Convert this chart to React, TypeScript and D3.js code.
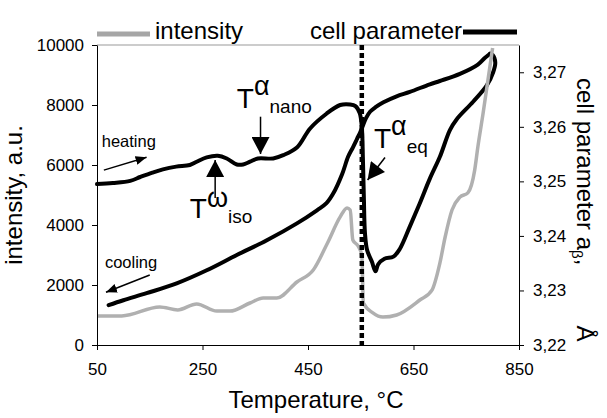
import React, { useRef, useEffect } from 'react';
import * as d3 from 'd3';

// axis ticks
const tempTicks = [50, 250, 450, 650, 850];
const intensityTicks = [0, 2000, 4000, 6000, 8000, 10000];
const cellTicks = [3.22, 3.23, 3.24, 3.25, 3.26, 3.27];

// grey curve: intensity vs temperature
const intensityTemp = [50, 97, 169, 203, 239, 277, 302, 340, 365, 391, 429, 460, 487, 511, 524, 530, 535, 545, 552, 555, 573, 592, 618, 662, 685, 700, 710, 723, 738, 753, 766, 772, 782, 800];
const intensityValue = [970, 970, 1270, 1170, 1370, 1130, 1130, 1400, 1570, 1570, 2100, 2500, 3400, 4270, 4570, 4500, 3500, 3300, 3000, 1400, 1070, 930, 1000, 1500, 1830, 2730, 3600, 4500, 4930, 5070, 5830, 6600, 7730, 9900];

// black curve: cell parameter, heating branch
const heatingTemp = [50, 80, 113, 132, 155, 175, 200, 226, 239, 258, 279, 296, 315, 327, 340, 355, 384, 403, 429, 454, 485, 511, 530, 540, 548, 552, 554, 556, 558, 562, 571, 578, 583, 595, 612, 624, 643, 662, 681, 700, 719, 732, 763, 789, 801, 805, 800, 795];
const heatingCell = [3.2495, 3.2497, 3.2501, 3.2508, 3.2516, 3.2522, 3.2527, 3.2530, 3.2536, 3.2544, 3.2547, 3.2542, 3.2531, 3.2531, 3.2536, 3.2542, 3.2542, 3.2548, 3.2562, 3.2597, 3.2624, 3.2640, 3.2641, 3.2638, 3.2625, 3.2600, 3.2545, 3.2466, 3.2405, 3.2374, 3.2353, 3.2335, 3.2348, 3.2358, 3.2362, 3.2376, 3.2417, 3.2460, 3.2505, 3.2545, 3.2594, 3.2614, 3.2646, 3.2676, 3.2700, 3.2718, 3.2732, 3.2734];

// cooling branch
const coolingTemp = [795, 785, 772, 738, 700, 681, 643, 618, 593, 578, 568, 560, 554, 549, 543, 535, 526, 515, 498, 485, 467, 429, 372, 315, 258, 201, 144, 100, 72];
const coolingCell = [3.2734, 3.2726, 3.2714, 3.2697, 3.2684, 3.2678, 3.2664, 3.2656, 3.2645, 3.2636, 3.2628, 3.2616, 3.2602, 3.2590, 3.2578, 3.2562, 3.2545, 3.2514, 3.2478, 3.2460, 3.2447, 3.2423, 3.2392, 3.2365, 3.2337, 3.2313, 3.2295, 3.2282, 3.2273];

const eqTemp = 552;

const FONT = 'Liberation Sans, Arial, Helvetica, sans-serif';

const margin = { top: 45, right: 88, bottom: 73, left: 97 };
const W = 607, H = 418;
const width = W - margin.left - margin.right;
const height = H - margin.top - margin.bottom;

const x = d3.scaleLinear().domain([50, 850]).range([0, width]);
const y = d3.scaleLinear().domain([0, 10000]).range([height, 0]);
const y2 = d3.scaleLinear().domain([3.22, 3.275]).range([height, 0]);

export default function App() {
    const leftRef = useRef<SVGGElement>(null);
    const rightRef = useRef<SVGGElement>(null);
    const bottomRef = useRef<SVGGElement>(null);

    useEffect(() => {
        const style = (g: any) => {
            g.selectAll('text').style('font-family', FONT).style('font-size', '17px').attr('fill', '#000');
            g.selectAll('line').attr('stroke', '#000');
            g.select('.domain').attr('stroke', '#000');
        };
        d3.select(leftRef.current!)
            .call(d3.axisLeft(y).tickValues(intensityTicks).tickSize(5).tickSizeOuter(0).tickPadding(8).tickFormat(d3.format('d')) as any)
            .call(style);
        d3.select(rightRef.current!)
            .call(d3.axisRight(y2).tickValues(cellTicks).tickSize(5).tickSizeOuter(0).tickPadding(9).tickFormat(d => d3.format('.2f')(d as number).replace('.', ',')) as any)
            .call(style);
        d3.select(bottomRef.current!)
            .call(d3.axisBottom(x).tickValues(tempTicks).tickSize(5).tickSizeOuter(0).tickPadding(13).tickFormat(d3.format('d')) as any)
            .call(style);
    }, []);

    const intensityLine = d3.line<number>()
        .x((d, i) => x(intensityTemp[i]))
        .y(d => y(d))
        .curve(d3.curveMonotoneX);

    const cellLine = (temps: number[]) => d3.line<number>()
        .x((d, i) => x(temps[i]))
        .y(d => y2(d))
        .curve(d3.curveCatmullRom.alpha(0.5));

    const arrow = (t1: number, i1: number, t2: number, i2: number, marker: string, key: string) => (
        <line key={key} x1={x(t1)} y1={y(i1)} x2={x(t2)} y2={y(i2)}
            stroke="#000" strokeWidth={1.5} markerEnd={`url(#${marker})`} />
    );

    const tLabel = (t: number, i: number, sup: string, sub: string, supDy: number, key: string) => (
        <text key={key} x={x(t)} y={y(i)} fontFamily={FONT} fontSize={28} fill="#000">
            T
            <tspan fontSize={27} dy={-supDy}>{sup}</tspan>
            <tspan fontSize={19} dy={supDy + 5}>{sub}</tspan>
        </text>
    );

    return (
        <svg width={W} height={H} style={{ position: 'absolute', left: 0, top: 0, background: '#fff' }}>
            <defs>
                <marker id="big" markerUnits="userSpaceOnUse" markerWidth={18} markerHeight={18}
                    viewBox="0 0 17 18" refX={17} refY={9} orient="auto">
                    <path d="M0,0 L17,9 L0,18 Z" fill="#000" />
                </marker>
                <marker id="small" markerUnits="userSpaceOnUse" markerWidth={11} markerHeight={9}
                    viewBox="0 0 11 9" refX={11} refY={4.5} orient="auto">
                    <path d="M0,0 L11,4.5 L0,9 Z" fill="#000" />
                </marker>
            </defs>

            {/* legend */}
            <line x1={margin.left} x2={margin.left + 53} y1={34} y2={34} stroke="#a6a6a6" strokeWidth={5} />
            <text x={margin.left + 58} y={39} fontFamily={FONT} fontSize={24} fill="#000">intensity</text>
            <text x={462} y={39} fontFamily={FONT} fontSize={24} fill="#000" textAnchor="end">cell parameter</text>
            <line x1={463} x2={517} y1={32} y2={32} stroke="#000" strokeWidth={5} />

            <g transform={`translate(${margin.left},${margin.top})`}>
                <line x1={0} x2={width} y1={0} y2={0} stroke="#999" strokeWidth={1} />

                <path d={cellLine(heatingTemp)(heatingCell) || ''} fill="none" stroke="#000" strokeWidth={4}
                    strokeLinejoin="round" strokeLinecap="round" />
                <path d={cellLine(coolingTemp)(coolingCell) || ''} fill="none" stroke="#000" strokeWidth={4}
                    strokeLinejoin="round" strokeLinecap="round" />
                <path d={intensityLine(intensityValue) || ''} fill="none" stroke="#b0b0b0" strokeWidth={3.5}
                    strokeLinejoin="round" />

                <line x1={x(eqTemp)} x2={x(eqTemp)} y1={0} y2={height} stroke="#000" strokeWidth={4.5}
                    strokeDasharray="5,3" />

                {/* annotations */}
                <text x={x(59)} y={y(6600)} fontFamily={FONT} fontSize={16.5} fill="#000">heating</text>
                {arrow(63, 5830, 144, 6257, 'small', 'ah')}
                <text x={x(65)} y={y(2577)} fontFamily={FONT} fontSize={16.5} fill="#000">cooling</text>
                {arrow(150, 2333, 67, 1757, 'small', 'ac')}

                {tLabel(315, 7890, 'α', 'nano', 13, 'tn')}
                {arrow(360, 7610, 360, 6367, 'big', 'an')}
                {tLabel(226, 4233, 'ω', 'iso', 11, 'ti')}
                {arrow(274, 4900, 274, 6167, 'big', 'ai')}
                {tLabel(575, 6567, 'α', 'eq', 13, 'te')}
                {arrow(596, 6250, 563, 5500, 'big', 'ae')}

                <g ref={leftRef} />
                <g ref={rightRef} transform={`translate(${width},0)`} />
                <g ref={bottomRef} transform={`translate(0,${height})`} />
            </g>

            {/* axis titles */}
            <text transform={`translate(22,${margin.top + height / 2}) rotate(-90)`} textAnchor="middle"
                fontFamily={FONT} fontSize={24} fill="#000">intensity, a.u.</text>
            <text x={margin.left + width / 2 + 8} y={408} textAnchor="middle" fontFamily={FONT} fontSize={24} fill="#000">
                Temperature, °C
            </text>
            <text transform={`translate(577,78) rotate(90)`} fontFamily={FONT} fontSize={24} fill="#000">
                cell parameter a
                <tspan fontSize={15} dy={5}>β</tspan>
                <tspan dy={-5}>,</tspan>
                <tspan dx={60}>Å</tspan>
            </text>
        </svg>
    );
}
